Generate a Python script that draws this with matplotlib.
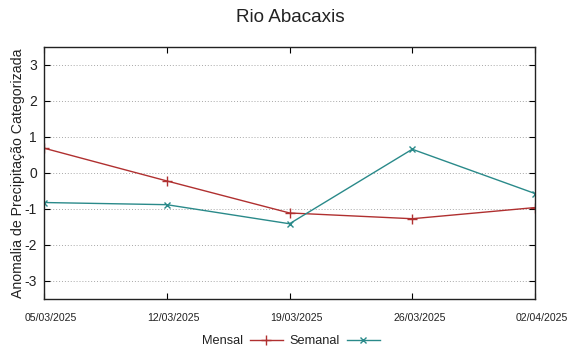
import matplotlib
matplotlib.use("Agg")
import matplotlib.pyplot as plt
import matplotlib.transforms as mtransforms

title = "Rio Abacaxis"
dates = ["05/03/2025", "12/03/2025", "19/03/2025", "26/03/2025", "02/04/2025"]
mensal = [0.69, -0.22, -1.11, -1.27, -0.96]
semanal = [-0.82, -0.88, -1.41, 0.66, -0.57]
yticks = [-3, -2, -1, 0, 1, 2, 3]

plt.rcParams['font.family'] = ['Liberation Sans', 'DejaVu Sans']

fig = plt.figure(figsize=(5.69, 3.51), dpi=100)
ax = fig.add_axes([44/569, 1-299/351, (535-44)/569, (299-47)/351])

x = list(range(len(dates)))
ax.plot(x, mensal, color='#b03030', lw=1.0, marker='+', ms=7, mew=1.0, label='Mensal')
ax.plot(x, semanal, color='#2a8a8a', lw=1.0, marker='x', ms=5, mew=1.0, label='Semanal')

ax.set_xlim(0, len(dates)-1)
ax.set_ylim(-3.5, 3.5)
ax.set_xticks(x)
ax.set_xticklabels([''] * len(dates))
offset = mtransforms.ScaledTranslation(7/100, -19/100, fig.dpi_scale_trans)
trans = ax.get_xaxis_transform() + offset
for xi, lab in zip(x, dates):
    ax.text(xi, 0, lab, transform=trans, ha='center', va='center',
            fontsize=7.6, color='#222222', clip_on=False)
ax.set_yticks(yticks)
ax.set_yticklabels([str(v) for v in yticks], fontsize=10, color='#222222')
ax.yaxis.grid(True, linestyle=(0, (1, 2)), color='#a8a8a8', lw=0.7)
ax.set_axisbelow(True)
ax.tick_params(direction='in', top=True, right=True, length=4, width=0.8)
ax.tick_params(axis='y', pad=5)
for s in ax.spines.values():
    s.set_linewidth(1.0)
    s.set_color('#222222')

ax.set_ylabel("Anomalia de Precipitação Categorizada", fontsize=10.2, color='#222222', labelpad=0)
fig.text(0.5097, 1-17/351, title, ha='center', va='center', fontsize=13.6, color='#222222')

fig.legend(loc='center', bbox_to_anchor=(291/569, 1-341.5/351), ncol=2, frameon=False,
           markerfirst=False, fontsize=9.2, handlelength=2.6, handletextpad=0.5,
           columnspacing=0.55, borderpad=0, labelcolor='#222222')

fig.savefig("out.png", dpi=100)
